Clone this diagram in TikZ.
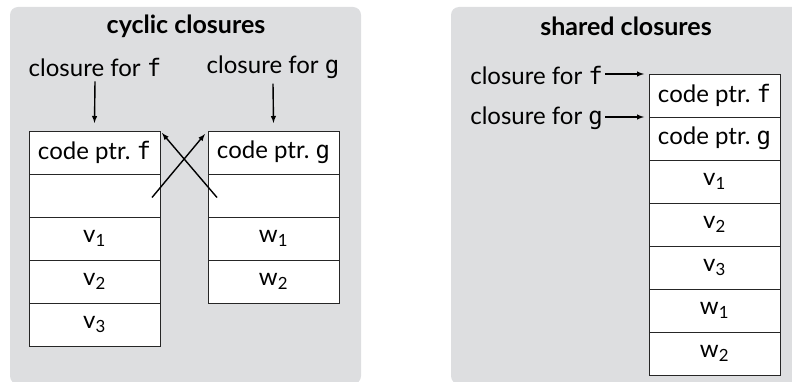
\documentclass[tikz,border=0pt]{standalone}
\usepackage{fontspec}
\setmainfont{Lato}
\setmonofont{DejaVu Sans Mono}
\usetikzlibrary{positioning}
\definecolor{panelgray}{RGB}{221,222,224}
\tikzset{
  panel/.style={fill=panelgray, draw=none, rounded corners=8pt},
  cell/.style={draw=black!85, fill=white, line width=0.9pt, minimum width=131pt,
    minimum height=43pt, inner sep=0pt, outer sep=0pt, font=\fontsize{24}{26}\selectfont},
  lbl/.style={font=\fontsize{24}{26}\selectfont, inner sep=2pt},
  ttl/.style={font=\fontsize{25}{27}\selectfont\bfseries},
  ptr/.style={-latex, line width=1.4pt}
}
\begin{document}
\begin{tikzpicture}[x=1pt, y=-1pt]
  \useasboundingbox (0,0) rectangle (792,382);
  % Panels
  \fill[panel] (10,7) rectangle (361,384);
  \fill[panel] (451,7) rectangle (800,384);
  \clip (0,0) rectangle (792,382);

  % Cyclic closures
  \node[ttl] (ctitle) at (186,26) {cyclic closures};
  \node[cell] (f1) at (94.5,152.5) {code ptr.~\texttt{f}};
  \node[cell, below=0pt of f1] (f2) {};
  \node[cell, below=0pt of f2] (f3) {v\textsubscript{1}};
  \node[cell, below=0pt of f3] (f4) {v\textsubscript{2}};
  \node[cell, below=0pt of f4] (f5) {v\textsubscript{3}};
  \node[cell] (g1) at (273.5,152.5) {code ptr.~\texttt{g}};
  \node[cell, below=0pt of g1] (g2) {};
  \node[cell, below=0pt of g2] (g3) {w\textsubscript{1}};
  \node[cell, below=0pt of g3] (g4) {w\textsubscript{2}};
  \node[lbl] (cf) at (95,67) {closure for \texttt{f}};
  \node[lbl] (cg) at (273,67) {closure for \texttt{g}};
  \draw[ptr] ([yshift=-3pt]cf.south) -- ([yshift=8pt]f1.north);
  \draw[ptr] ([yshift=-3pt]cg.south) -- ([yshift=8pt]g1.north);
  % Crossing pointers
  \draw[ptr] ([xshift=-8pt,yshift=-2pt]f2.east) -- ([xshift=-3pt,yshift=-3pt]g1.north west);
  \draw[ptr] ([xshift=9pt,yshift=-2pt]g2.west) -- ([xshift=2pt,yshift=-2pt]f1.north east);

  % Shared closures
  \node[ttl] (stitle) at (626,26) {shared closures};
  \node[cell] (s1) at (714.5,95.5) {code ptr.~\texttt{f}};
  \node[cell, below=0pt of s1] (s2) {code ptr.~\texttt{g}};
  \node[cell, below=0pt of s2] (s3) {v\textsubscript{1}};
  \node[cell, below=0pt of s3] (s4) {v\textsubscript{2}};
  \node[cell, below=0pt of s4] (s5) {v\textsubscript{3}};
  \node[cell, below=0pt of s5] (s6) {w\textsubscript{1}};
  \node[cell, below=0pt of s6] (s7) {w\textsubscript{2}};
  \node[lbl, anchor=east] (sf) at ([xshift=-44pt,yshift=-1pt]s1.north west) {closure for \texttt{f}};
  \node[lbl, anchor=east] (sg) at ([xshift=-44pt,yshift=-1pt]s1.south west) {closure for \texttt{g}};
  \draw[ptr] ([yshift=1pt]sf.east) -- ([xshift=-5pt]s1.north west);
  \draw[ptr] ([yshift=1pt]sg.east) -- ([xshift=-5pt]s1.south west);
\end{tikzpicture}
\end{document}
